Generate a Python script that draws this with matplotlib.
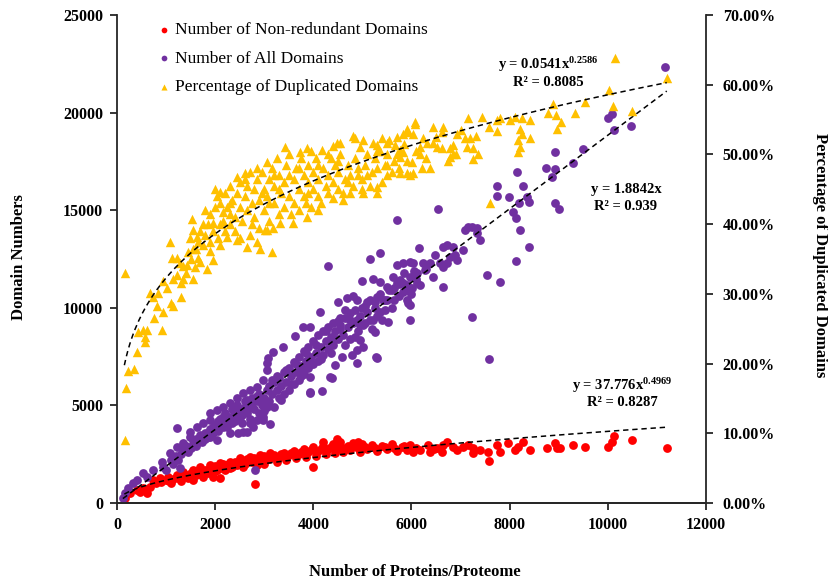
import matplotlib
matplotlib.use("Agg")
import matplotlib.pyplot as plt
import numpy as np
from matplotlib.ticker import FuncFormatter

plt.rcParams['font.family'] = ['Liberation Serif', 'DejaVu Serif']
plt.rcParams['mathtext.fontset'] = 'custom'
plt.rcParams['mathtext.rm'] = 'Liberation Serif'
plt.rcParams['mathtext.bf'] = 'Liberation Serif:bold'
plt.rcParams['mathtext.it'] = 'Liberation Serif:italic'

# ---- percentage of duplicated domains (right axis, %) ----
dup_x = [163, 163, 183, 224, 346, 407, 428, 530, 611, 570, 570, 916, 754, 937, 815, 1100, 1141, 1304,
         672, 733, 835, 1019, 1080, 937, 1141, 1222, 1345, 1548, 1834, 1283, 1426, 1589, 1120, 1222,
         1487, 1630, 1548, 1528, 1793, 2037, 2099, 2445, 2608, 2852, 3056, 1956, 2160, 2302, 2241, 2445,
         2649, 2852, 3056, 2913, 1956, 1895, 1650, 3423, 3729, 3871, 4177, 4482, 4544, 4849, 5012, 5399,
         5501, 5216, 5297, 5664, 5766, 5929, 6071, 6031, 6010, 5909, 5766, 5501, 5297, 5297, 5012, 4992,
         4747, 4605, 4401, 4095, 3871, 3586, 3321, 3178, 3015, 3158,
         10147, 10025, 10106, 10493, 11206, 9535, 9332, 8883, 8782, 8944, 9046, 8965, 8415, 8252, 8109,
         8007, 7804, 7742, 7580, 7437, 7152, 7742, 8211, 8252, 8170, 8211, 8415, 8170, 7600, 6642, 6622,
         6438, 7315, 7193, 7131, 7254, 7355, 7090, 6927, 6846, 6785, 6846, 6785, 6744, 7254, 6377, 6214,
         6173, 6173, 6031, 5970, 6520, 6622, 6438, 6316, 6071, 5909, 5827, 5766, 5827, 6235,
         1300, 1400, 1450, 1500, 1600, 1650, 1700, 1700, 1750, 1800, 1850, 1900, 1900, 1950, 2000, 2050,
         2100, 2100, 2150, 2200, 2200, 2250, 2300, 2300, 2350, 2400, 2400, 2450, 2500, 2500, 2550, 2600,
         2650, 2650, 2700, 2700, 2750, 2800, 2800, 2850, 2900, 2900, 2950, 3000, 3000, 3050, 3100, 3100,
         3150, 3200, 3200, 3250, 3300, 3300, 3350, 3400, 3400, 3450, 3500, 3500, 3550, 3600, 3600, 3650,
         3700, 3700, 3750, 3800, 3800, 3850, 3900, 3900, 3950, 4000, 4000, 4050, 4100, 4100, 4150, 4200,
         4250, 4300, 4300, 4350, 4400, 4450, 4500, 4500, 4550, 4600, 4650, 4700, 4750, 4800, 4850, 4900,
         4950, 5000, 5050, 5100, 5150, 5200, 5250, 5300, 5350, 5400, 5450, 5500, 5550, 5600, 5650, 5700,
         5750, 5850, 5900, 6100, 6300, 6500, 6900, 7000, 4808, 4400, 3950, 3200,
         2000, 2100, 2300, 2500, 2600, 2750, 2950, 3100, 3300, 3500, 3700, 3900, 4100, 4300, 4500, 4700,
         4900, 5100, 5300, 5500, 5700, 1550, 1750, 1350]
dup_pct = [9.0, 33.0, 16.5, 18.9, 19.2, 21.6, 24.5, 24.8, 24.8, 23.8, 23.1, 24.8, 26.6, 27.4, 28.2, 28.7,
           28.2, 29.5, 30.1, 29.5, 30.1, 30.9, 37.4, 31.9, 32.2, 32.7, 32.2, 32.2, 33.5, 34.4, 34.1, 33.8,
           35.1, 35.2, 38.0, 38.1, 39.1, 40.8, 42.0, 44.1, 44.6, 46.7, 47.3, 48.0, 48.9, 40.1, 40.5, 41.5,
           38.1, 37.7, 36.7, 37.4, 39.1, 36.5, 34.8, 36.2, 35.2, 51.0, 50.3, 50.9, 50.6, 51.6, 51.7, 52.4,
           52.1, 52.4, 51.7, 51.7, 51.3, 51.3, 50.6, 53.2, 54.6, 53.0, 48.9, 47.4, 47.3, 47.0, 45.3, 44.4,
           44.4, 45.1, 44.4, 43.4, 43.8, 42.0, 41.0, 40.1, 40.1, 39.5, 39.1, 36.0,
           63.8, 59.2, 56.9, 56.3, 61.0, 57.5, 56.0, 57.2, 55.9, 55.6, 54.6, 53.6, 54.9, 55.2, 55.3, 55.0,
           55.2, 54.9, 53.9, 55.3, 55.2, 53.4, 53.7, 53.0, 52.0, 51.0, 52.3, 50.3, 43.0, 53.9, 53.2, 53.9,
           52.7, 52.3, 51.0, 50.9, 50.1, 52.4, 52.9, 51.4, 50.9, 50.1, 49.6, 49.0, 49.4, 48.1, 48.1, 50.0,
           51.0, 47.3, 47.0, 51.0, 50.9, 51.7, 51.6, 54.4, 53.7, 53.0, 49.6, 50.3, 52.4,
           31.5, 33.0, 36.0, 35.0, 36.5, 37.5, 34.5, 39.0, 37.0, 38.5, 40.0, 37.5, 41.5, 39.0, 42.5, 38.0,
           40.0, 43.0, 41.8, 39.0, 44.5, 42.5, 40.0, 45.5, 43.5, 41.0, 39.0, 44.5, 42.5, 46.0, 40.5, 44.0,
           42.0, 45.5, 38.5, 47.5, 43.0, 45.0, 41.0, 46.5, 39.5, 43.5, 47.5, 42.0, 45.0, 44.0, 46.5, 40.5,
           48.0, 43.0, 45.5, 49.5, 41.5, 47.0, 44.5, 46.0, 42.5, 48.5, 44.0, 50.0, 41.5, 46.5, 43.0, 48.0,
           45.0, 42.0, 49.5, 44.0, 47.0, 43.0, 46.0, 48.5, 42.5, 45.0, 47.5, 49.5, 44.0, 46.5, 43.0, 48.0,
           45.5, 47.0, 44.5, 49.5, 46.0, 48.5, 45.0, 47.5, 50.0, 44.5, 46.5, 48.5, 47.0, 45.5, 49.5, 47.0,
           51.0, 46.5, 48.5, 50.0, 45.5, 47.5, 49.5, 48.0, 50.5, 46.0, 48.5, 50.0, 52.0, 47.5, 49.0, 52.5,
           48.0, 51.5, 49.0, 50.5, 49.5, 52.5, 50.0, 53.5, 52.7, 51.2, 50.5, 47.0,
           45.0, 37.0, 43.0, 38.0, 46.5, 40.0, 44.5, 43.0, 45.0, 47.0, 48.0, 44.5, 48.5, 50.0, 49.0, 46.0,
           48.0, 47.0, 50.5, 48.5, 50.0, 36.5, 40.0, 34.0]

# ---- number of all domains (left axis) ----
all_x = [163, 122, 224, 326, 407, 530, 611, 733, 916, 937, 1080, 1222, 1345, 1487, 1222, 1487, 1630, 1752,
         1895, 1283, 2812, 1548, 1732, 1895, 2037, 1426, 1895, 2037, 2160, 2302, 2445, 2567, 2710, 2852,
         2975, 3056, 3077, 2302, 2445, 2567, 2710, 2852, 2975, 3056, 2302, 2465, 2649, 2771, 2975, 3118,
         3932, 4177, 4381, 4136, 5297, 5970, 4299, 5155, 5359, 5705, 4992, 5216, 5359, 5705, 5827, 5970,
         6031, 5624, 5766, 5705, 5909, 6010, 6112, 5501, 5603, 5909, 5929, 4503, 4686, 4808, 4890, 5094,
         5297, 5420, 4645, 4747, 4890, 5012, 5216, 5399, 5522, 5257, 4951, 5012, 5277, 3790, 3932, 3627,
         4401, 4544, 4890, 4788, 4584, 4442, 4340, 3932, 4890, 3382, 3178, 3056, 3790, 3932,
         11165, 10004, 10086, 10126, 10473, 9495, 9291, 8924, 8924, 8741, 8863, 8150, 8272, 7742, 7742,
         7987, 8191, 8394, 8354, 8924, 9006, 6540, 8069, 8130, 8211, 8394, 8130, 7539, 7804, 7090, 7152,
         7233, 7335, 7335, 7396, 7050, 6846, 6887, 6927, 6785, 6724, 6642, 6581, 6642, 6724, 6479, 6377,
         6235, 6153, 6275, 6112, 5970, 5827, 6438, 6642, 6173, 5909, 7233, 7580, 5970, 5827,
         1100, 1200, 1300, 1350, 1400, 1500, 1550, 1600, 1650, 1700, 1750, 1800, 1850, 1900, 1950, 2000,
         2050, 2100, 2150, 2200, 2200, 2250, 2300, 2350, 2400, 2400, 2450, 2500, 2500, 2550, 2600, 2650,
         2700, 2700, 2750, 2800, 2850, 2900, 2900, 2950, 3000, 3000, 3050, 3100, 3100, 3150, 3200, 3200,
         3250, 3300, 3300, 3350, 3400, 3400, 3450, 3500, 3500, 3550, 3600, 3600, 3650, 3700, 3700, 3750,
         3800, 3800, 3850, 3900, 3900, 3950, 4000, 4000, 4050, 4100, 4100, 4150, 4200, 4200, 4250, 4300,
         4300, 4350, 4400, 4450, 4500, 4500, 4550, 4600, 4650, 4700, 4750, 4800, 4850, 4900, 4950, 5000,
         5050, 5100, 5150, 5200, 5250, 5300, 5350, 5450, 5500, 5600, 5650, 5750, 5850, 6000, 6100, 6300,
         1000, 1150, 1250, 1450, 1600, 1700, 1800, 1950, 2050, 2150, 2250, 2350, 2450, 2550, 2600, 2650,
         2750, 2850, 2950, 3050, 3150, 3250, 3350, 3450, 3550, 3650, 3750, 3850, 3950, 4050, 4150, 4250,
         4350, 4450, 4550, 4650, 4750, 4850, 4950, 5050, 5150, 5250, 5350, 5450, 5550, 5650, 5750, 6050]
all_dom = [512, 256, 768, 1025, 1178, 1537, 1332, 1690, 2100, 1844, 2561, 2869, 3074, 3381, 3842, 3637,
           3893, 4098, 4252, 1793, 1690, 3227, 3125, 3381, 3227, 2715, 4611, 4764, 4918, 5123, 5379, 5635,
           5789, 5943, 6301, 6813, 7428, 4252, 4406, 3637, 4098, 4252, 4406, 4918, 3586, 3586, 3637, 3893,
           4252, 4047, 5686, 5737, 6403, 9785, 7428, 9375, 12141, 12500, 12807, 14498, 11373, 11475, 11322,
           12193, 12295, 12346, 12295, 11578, 11424, 11270, 11168, 11014, 11270, 11065, 10912, 10400, 10246,
           10297, 10502, 10604, 10400, 10297, 10553, 10400, 9887, 9734, 9375, 9119, 9375, 9375, 9273, 8760,
           8350, 7992, 7480, 9016, 9016, 8555, 9221, 9477, 7838, 7582, 7480, 7070, 6455, 5635, 7172, 7992,
           7736, 7172, 6813, 6455,
           22336, 19723, 19928, 19108, 19313, 18135, 17418, 17981, 17110, 17162, 16701, 16957, 16240, 16240,
           15727, 15676, 15369, 15420, 15676, 15369, 15061, 15061, 14908, 14600, 13986, 13115, 12398, 11680,
           11322, 13986, 14139, 14139, 14088, 13832, 13473, 12961, 13115, 12705, 12449, 12602, 13217, 13115,
           12295, 12090, 12295, 12705, 12295, 12295, 13064, 11936, 11783, 11578, 11270, 11578, 11065, 11168,
           10912, 9529, 7377, 10143, 10810,
           2200, 2400, 2500, 2700, 2900, 2800, 3000, 3300, 3100, 3500, 3300, 3600, 3400, 3800, 3600, 4000,
           3700, 4300, 3900, 4100, 4600, 3900, 4400, 4800, 4200, 4600, 5000, 4400, 4800, 4100, 5200, 4600,
           5000, 4300, 5400, 4800, 5200, 4600, 5600, 5000, 5400, 4700, 5800, 5200, 6000, 5600, 4900, 6200,
           5800, 5400, 6400, 6000, 5600, 6700, 6200, 5800, 6900, 6500, 6100, 7200, 6700, 6300, 7500, 7000,
           6600, 7800, 7300, 6900, 8000, 7500, 7100, 8300, 7700, 7300, 8600, 8000, 7600, 8800, 8300, 7900,
           9000, 8500, 8100, 8800, 8400, 9300, 8900, 8600, 9500, 9000, 8400, 9200, 9900, 8800, 9600, 10000,
           9200, 9800, 10400, 8900, 10000, 9600, 10700, 9900, 10400, 10000, 11000, 10600, 11800, 10700,
           11500, 12000,
           1700, 2000, 2200, 2600, 2900, 3200, 3300, 3900, 4200, 4400, 4300, 4100, 4700, 4500, 4900, 5300,
           4900, 5500, 5300, 5100, 6300, 6500, 5300, 6800, 6100, 7100, 6500, 7700, 7100, 8100, 7400, 8800,
           7700, 8400, 9100, 8100, 9400, 8500, 9100, 10100, 9400, 10300, 9800, 10400, 10900, 10400, 11200,
           11900]

# ---- number of non-redundant domains (left axis) ----
nr_x = [163, 265, 407, 530, 672, 733, 876, 1039, 1222, 1345, 1548, 469, 611, 1691, 1895, 2099, 2302,
        2506, 2710, 2913, 3118, 1548, 1752, 1956, 2099, 2812, 2037, 2302, 2567, 2852, 3993,
        5970, 6031, 6173, 6337, 6377, 6520, 6622, 6642, 6724, 6846, 6927, 7050, 7152, 7254, 7254, 7396,
        7559, 7580, 7742, 7804, 7966, 8109, 8170, 8272, 8415, 8761, 8924, 8965, 9026, 9291, 9535, 10004,
        10086, 10126, 10493, 11206,
        800, 900, 1000, 1100, 1150, 1250, 1300, 1400, 1450, 1500, 1600, 1650, 1700, 1800, 1850, 1900,
        2000, 2000, 2100, 2150, 2200, 2250, 2350, 2400, 2450, 2550, 2600, 2650, 2750, 2800, 2900, 3000,
        3000, 3100, 3200, 3250, 3300, 3400, 3450, 3500, 3600, 3650, 3700, 3800, 3850, 3900, 4000, 4050,
        4100, 4200, 4250, 4300, 4400, 4450, 4500, 4550, 4600, 4700, 4750, 4800, 4900, 4950, 5000, 5100,
        5200, 5300, 5400, 5500, 5600, 5700, 5800, 5900, 4482, 4200, 4900,
        1050, 1350, 1600, 1900, 2200, 2500, 2700, 2950, 3150, 3350, 3550, 3750, 3950, 4150, 4350, 4650,
        4850, 5050, 5250, 5450, 5650, 5850, 6100, 6450]
nr_dom = [256, 512, 666, 768, 820, 1178, 1281, 1332, 1434, 1588, 1690, 563, 512, 1844, 1947, 2049, 2100,
          2305, 2357, 2459, 2561, 1178, 1332, 1332, 1281, 973, 1690, 1793, 1844, 1947, 1844,
          2971, 2613, 2715, 2971, 2613, 2818, 2613, 2971, 3125, 2869, 2715, 2869, 2971, 2818, 2561, 2715,
          2613, 2152, 2971, 2613, 3074, 2715, 2869, 3125, 2715, 2818, 3074, 2818, 2818, 2971, 2869, 2869,
          3125, 3432, 3227, 2818,
          1000, 1100, 1200, 1050, 1250, 1300, 1150, 1450, 1300, 1550, 1450, 1600, 1500, 1700, 1550, 1800,
          1650, 1900, 1800, 2000, 1700, 1950, 1850, 2100, 1950, 2200, 2000, 2250, 2100, 2300, 2150, 2400,
          2000, 2250, 2450, 2100, 2350, 2550, 2200, 2450, 2650, 2300, 2500, 2750, 2350, 2600, 2850, 2400,
          2650, 2900, 2500, 2750, 3000, 2550, 2800, 3100, 2600, 2900, 2700, 3050, 2800, 2600, 3000, 2750,
          2950, 2650, 2900, 2750, 3000, 2650, 2850, 2700, 3280, 3150, 3150,
          1150, 1350, 1650, 1650, 1950, 2100, 2200, 2300, 2350, 2500, 2550, 2600, 2700, 2750, 2850, 2800,
          2900, 2850, 2800, 2850, 2800, 2900, 2800, 2750]

# trendline coefficients as printed on the chart
nr_fit = (37.776, 0.4969)
all_fit = 1.8842
dup_fit = (0.0541, 0.2586)

red, purple, gold = '#FF0000', '#7030A0', '#FFC000'

fig = plt.figure(figsize=(8.29, 5.81), dpi=100)
ax = fig.add_axes([117 / 829, 1 - 503 / 581, 589 / 829, 488 / 581])
ax2 = ax.twinx()

h1 = ax.scatter(nr_x, nr_dom, s=40, color=red, linewidths=0, zorder=2,
                label='Number of Non-redundant Domains')
h2 = ax.scatter(all_x, all_dom, s=40, color=purple, linewidths=0, zorder=3,
                label='Number of All Domains')
h3 = ax2.scatter(dup_x, dup_pct, s=46, marker='^', color=gold, linewidths=0, zorder=2,
                 label='Percentage of Duplicated Domains')

dash = (0, (3.5, 2.5))
xt = np.linspace(150, 11200, 300)
xl = np.linspace(120, 11200, 50)
ax.plot(xt, nr_fit[0] * xt ** nr_fit[1], color='black', lw=1.1, ls=dash, zorder=5)
ax.plot(xl, all_fit * xl, color='black', lw=1.1, ls=dash, zorder=5)
ax2.plot(xt, 100 * dup_fit[0] * xt ** dup_fit[1], color='black', lw=1.1, ls=dash, zorder=5)

ax.set_xlim(0, 12000)
ax.set_ylim(0, 25000)
ax2.set_ylim(0, 70)
ax.set_xticks(range(0, 12001, 2000))
ax.set_yticks(range(0, 25001, 5000))
ax2.set_yticks(range(0, 71, 10))
ax2.yaxis.set_major_formatter(FuncFormatter(lambda v, p: '{:.2f}%'.format(v)))

for a in (ax, ax2):
    a.spines['top'].set_visible(False)
    for s in a.spines.values():
        s.set_linewidth(1.3)
        s.set_color('#262626')
    a.tick_params(direction='out', length=5, width=1.3, color='#262626', labelsize=11.5, pad=5)
    for lab in a.get_xticklabels() + a.get_yticklabels():
        lab.set_fontweight('bold')
ax.spines['right'].set_visible(False)
ax2.spines['left'].set_visible(False)
ax2.tick_params(pad=7)

fig.text(19 / 829, 1 - 257 / 581, 'Domain Numbers', rotation=90, ha='center', va='center',
         fontsize=12, fontweight='bold')
fig.text(820 / 829, 1 - 255 / 581, 'Percentage of Duplicated Domains', rotation=270, ha='center',
         va='center', fontsize=12, fontweight='bold')
fig.text(415 / 829, 1 - 572 / 581, 'Number of Proteins/Proteome', ha='center', va='center',
         fontsize=12, fontweight='bold')

eq = dict(ha='center', va='center', fontsize=10.5, fontweight='bold')
fig.text(548 / 829, 1 - 65 / 581, r'y = 0.0541x$^{\mathbf{0.2586}}$', **eq)
fig.text(548 / 829, 1 - 83 / 581, 'R² = 0.8085', **eq)
fig.text(626 / 829, 1 - 190 / 581, 'y = 1.8842x', **eq)
fig.text(626 / 829, 1 - 207 / 581, 'R² = 0.939', **eq)
fig.text(622 / 829, 1 - 386 / 581, r'y = 37.776x$^{\mathbf{0.4969}}$', **eq)
fig.text(622 / 829, 1 - 402 / 581, 'R² = 0.8287', **eq)

leg = ax2.legend(handles=[h1, h2, h3], loc='upper left', bbox_to_anchor=((158 - 117) / 589, 1 - 7 / 488),
                 frameon=False, fontsize=12.5, handlelength=0.7, handletextpad=0.3, labelspacing=0.72,
                 borderaxespad=0, borderpad=0, markerscale=0.65)

fig.savefig('out.png', dpi=100)
